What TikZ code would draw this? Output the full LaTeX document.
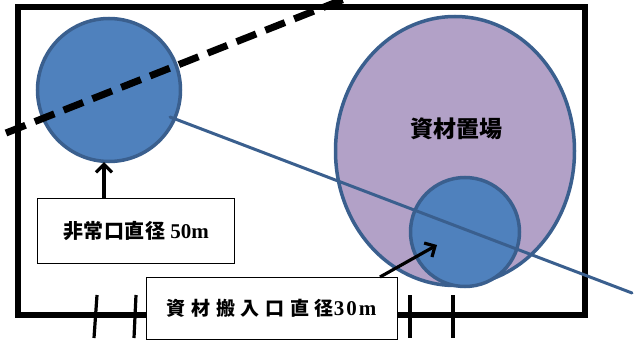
\documentclass[tikz,border=0pt]{standalone}
\usepackage{fontspec}
\setmainfont{Liberation Serif}
\newfontfamily\cjk{Noto Sans CJK JP}
\usetikzlibrary{arrows.meta,shapes.geometric}
\definecolor{blueF}{HTML}{4F81BD}
\definecolor{blueB}{HTML}{3A5F8E}
\definecolor{purpF}{HTML}{B2A1C7}
\tikzset{
  frame/.style={line width=6pt, line join=miter},
  zone/.style={draw=blueB, line width=3.5pt, inner sep=0pt},
  label/.style={draw=black, line width=1pt, fill=white, inner sep=0pt, font=\bfseries},
  tick/.style={line width=3.2pt},
  pointer/.style={line width=3.2pt, -{Straight Barb[length=8pt, width=16pt, line width=3.2pt]}},
}
\begin{document}
\begin{tikzpicture}[x=1pt,y=-1pt]
\useasboundingbox (0,0) rectangle (638,340);
\begin{scope}
\clip (0,0) rectangle (638,340);
% frame
\coordinate (c1) at (18,7);
\coordinate (c2) at (585,7);
\coordinate (c3) at (585,315);
\coordinate (c4) at (18,315);
\draw[frame] (c1) -- (c2) -- (c3) -- (c4) -- cycle;
% zones
\node[zone, fill=purpF, ellipse, minimum width=239pt, minimum height=269pt] (store) at (455,151) {};
\node[zone, fill=blueF, circle, minimum size=143pt] (exitc) at (109,90) {};
\node[zone, fill=blueF, circle, minimum size=109pt] (gatec) at (465,232) {};
\node[font=\cjk\bfseries\fontsize{23}{25}\selectfont] (storelbl) at (456,129) {資材置場};
% blue thin line
\coordinate (b1) at (170,117);
\coordinate (b2) at (632,293);
\draw[blueB, line width=3pt, line cap=round] (b1) -- (b2);
% dashed line
\coordinate (d1) at (6,133);
\coordinate (d2) at (352,-4);
\draw[line width=7pt, dash pattern=on 21pt off 10pt] (d1) -- (d2);
% ticks
\coordinate (t1a) at (97,295); \coordinate (t1b) at (94,338);
\coordinate (t2a) at (136,295); \coordinate (t2b) at (134,338);
\coordinate (t3a) at (410,295); \coordinate (t3b) at (410,338);
\coordinate (t4a) at (453,295); \coordinate (t4b) at (453,338);
\draw[tick] (t1a) -- (t1b);
\draw[tick] (t2a) -- (t2b);
\draw[tick] (t3a) -- (t3b);
\draw[tick] (t4a) -- (t4b);
% labels
\node[label, minimum width=197pt, minimum height=65pt] (exitlbl) at (136,230.5)
  {{\cjk\fontsize{20}{22}\selectfont\addfontfeatures{LetterSpace=3}非常口直径}\hspace{5pt}\fontsize{21}{23}\selectfont 50m};
\node[label, minimum width=251pt, minimum height=62pt] (gatelbl) at (271.5,308)
  {{\cjk\fontsize{19}{21}\selectfont\addfontfeatures{LetterSpace=30}資材搬入口直径}\fontsize{21}{23}\selectfont 3\hspace{2pt}0\hspace{2pt}m};
% arrows
\coordinate (exittip) at (104,162);
\draw[pointer] (exitlbl.north -| exittip) -- (exittip);
\coordinate (gatetip) at (437,245);
\coordinate (gatefrom) at (380,277);
\draw[pointer] (gatefrom) -- (gatetip);
\end{scope}
\end{tikzpicture}
\end{document}
